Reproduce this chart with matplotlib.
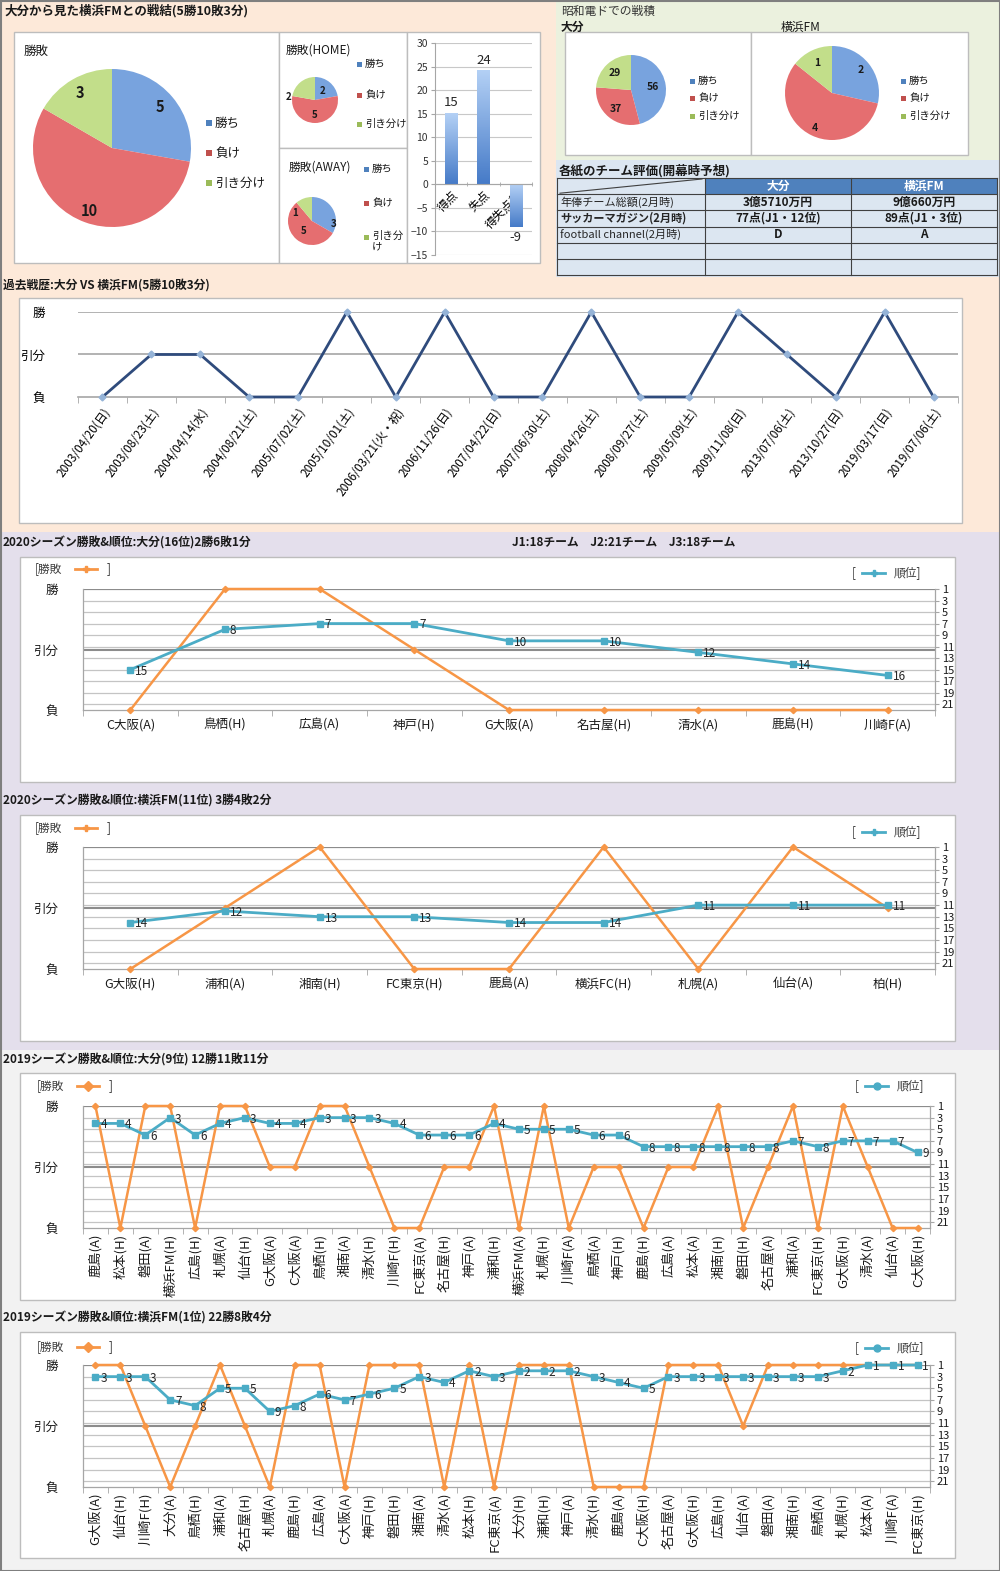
# -*- coding: utf-8 -*-
"""
大分 vs 横浜FM 戦績まとめ (Excelの表をmatplotlibで再現)
"""
import numpy as np
import matplotlib.pyplot as plt
from matplotlib.patches import Rectangle
from matplotlib.colors import LinearSegmentedColormap

plt.rcParams['font.family'] = ['Noto Sans CJK JP', 'DejaVu Sans']

ANCHO, ALTO = 1000, 1571

# ---------------- datos ----------------
kekka_nombres = ['勝ち', '負け', '引き分け']
kekka_total = [5, 10, 3]
kekka_home = [2, 5, 2]
kekka_away = [3, 5, 1]

goles_nombres = ['得点', '失点', '得失点差']
goles_valores = [15, 24, -9]

showa_oita = [56, 37, 29]
showa_yokohama = [2, 4, 1]

tabla_filas = ['年俸チーム総額(2月時)', 'サッカーマガジン(2月時)', 'football channel(2月時)']
tabla_oita = ['3億5710万円', '77点(J1・12位)', 'D']
tabla_yokohama = ['9億660万円', '89点(J1・3位)', 'A']

kako_fechas = ['2003/04/20(日)', '2003/08/23(土)', '2004/04/14(水)', '2004/08/21(土)',
               '2005/07/02(土)', '2005/10/01(土)', '2006/03/21(火・祝)', '2006/11/26(日)',
               '2007/04/22(日)', '2007/06/30(土)', '2008/04/26(土)', '2008/09/27(土)',
               '2009/05/09(土)', '2009/11/08(日)', '2013/07/06(土)', '2013/10/27(日)',
               '2019/03/17(日)', '2019/07/06(土)']
kako_kekka = [0, 1, 1, 0, 0, 2, 0, 2, 0, 0, 2, 0, 0, 2, 1, 0, 2, 0]  # 0=負 1=引分 2=勝

oita2020_equipos = ['C大阪(A)', '鳥栖(H)', '広島(A)', '神戸(H)', 'G大阪(A)', '名古屋(H)',
                    '清水(A)', '鹿島(H)', '川崎F(A)']
oita2020_kekka = [0, 2, 2, 1, 0, 0, 0, 0, 0]
oita2020_juni = [15, 8, 7, 7, 10, 10, 12, 14, 16]

yoko2020_equipos = ['G大阪(H)', '浦和(A)', '湘南(H)', 'FC東京(H)', '鹿島(A)', '横浜FC(H)',
                    '札幌(A)', '仙台(A)', '柏(H)']
yoko2020_kekka = [0, 1, 2, 0, 0, 2, 0, 2, 1]
yoko2020_juni = [14, 12, 13, 13, 14, 14, 11, 11, 11]

oita2019_equipos = ['鹿島(A)', '松本(H)', '磐田(A)', '横浜FM(H)', '広島(H)', '札幌(A)', '仙台(H)',
                    'G大阪(A)', 'C大阪(A)', '鳥栖(H)', '湘南(A)', '清水(H)', '川崎F(H)', 'FC東京(A)',
                    '名古屋(H)', '神戸(A)', '浦和(H)', '横浜FM(A)', '札幌(H)', '川崎F(A)', '鳥栖(A)',
                    '神戸(H)', '鹿島(H)', '広島(A)', '松本(A)', '湘南(H)', '磐田(H)', '名古屋(A)',
                    '浦和(A)', 'FC東京(H)', 'G大阪(H)', '清水(A)', '仙台(A)', 'C大阪(H)']
oita2019_kekka = [2, 0, 2, 2, 0, 2, 2, 1, 1, 2, 2, 1, 0, 0, 1, 1, 2,
                  0, 2, 0, 1, 1, 0, 1, 1, 2, 0, 1, 2, 0, 2, 1, 0, 0]
oita2019_juni = [4, 4, 6, 3, 6, 4, 3, 4, 4, 3, 3, 3, 4, 6, 6, 6, 4,
                 5, 5, 5, 6, 6, 8, 8, 8, 8, 8, 8, 7, 8, 7, 7, 7, 9]

yoko2019_equipos = ['G大阪(A)', '仙台(H)', '川崎F(H)', '大分(A)', '鳥栖(H)', '浦和(A)', '名古屋(H)',
                    '札幌(A)', '鹿島(H)', '広島(A)', 'C大阪(A)', '神戸(H)', '磐田(H)', '湘南(A)',
                    '清水(A)', '松本(H)', 'FC東京(A)', '大分(H)', '浦和(H)', '神戸(A)', '清水(H)',
                    '鹿島(A)', 'C大阪(H)', '名古屋(A)', 'G大阪(H)', '広島(H)', '仙台(A)', '磐田(A)',
                    '湘南(H)', '鳥栖(A)', '札幌(H)', '松本(A)', '川崎F(A)', 'FC東京(H)']
yoko2019_kekka = [2, 2, 1, 0, 1, 2, 1, 0, 2, 2, 0, 2, 2, 2, 0, 2, 0,
                  2, 2, 2, 0, 0, 0, 2, 2, 2, 1, 2, 2, 2, 2, 2, 2, 2]
yoko2019_juni = [3, 3, 3, 7, 8, 5, 5, 9, 8, 6, 7, 6, 5, 3, 4, 2, 3,
                 2, 2, 2, 3, 4, 5, 3, 3, 3, 3, 3, 3, 3, 2, 1, 1, 1]

# colores
AZUL, ROJO, VERDE = '#4F81BD', '#C0504D', '#9BBB59'
PIE_COLORES = ['#78A3DE', '#E56E70', '#C2DE8A']
NARANJA = '#F79646'
TURQUESA = '#4BACC6'
BORDE = '#BDBDBD'


fig = plt.figure(figsize=(ANCHO / 100, ALTO / 100), dpi=100)

# eje de fondo en pixeles (y hacia abajo)
bg = fig.add_axes([0, 0, 1, 1])
bg.set_xlim(0, ANCHO)
bg.set_ylim(ALTO, 0)
bg.axis('off')


def ejes_px(x, y, w, h):
    return fig.add_axes([x / ANCHO, 1 - (y + h) / ALTO, w / ANCHO, h / ALTO])


def cuadro(x0, y0, x1, y1, color='white'):
    bg.add_patch(Rectangle((x0, y0), x1 - x0, y1 - y0, fc=color, ec=BORDE, lw=1))


def texto(x, y, s, fs=8.5, **kw):
    kw.setdefault('va', 'center')
    bg.text(x, y, s, fontsize=fs, color=kw.pop('color', '#1a1a1a'), **kw)


def leyenda_pie(x, etiquetas, ys, fs=7.5, lado=5):
    for et, yy, c in zip(etiquetas, ys, [AZUL, ROJO, VERDE]):
        bg.add_patch(Rectangle((x, yy - lado / 2), lado, lado, fc=c, ec='none'))
        if '\n' in et:
            texto(x + lado + 3, yy - 6, et, fs=fs, va='top', linespacing=1.0)
        else:
            texto(x + lado + 3, yy, et, fs=fs)


def pie_px(cx, cy, r, valores, dist, fs, angulos=None):
    ax = ejes_px(cx - r, cy - r, 2 * r, 2 * r)
    cunas, _ = ax.pie(valores, colors=PIE_COLORES, startangle=90, counterclock=False, radius=1)
    ax.set_xlim(-1, 1)
    ax.set_ylim(-1, 1)
    ax.axis('off')
    if angulos is None:
        angulos = [None] * len(valores)
    for c, v, d, a in zip(cunas, valores, dist, angulos):
        ang = np.deg2rad((c.theta1 + c.theta2) / 2 if a is None else a)
        ax.text(d * np.cos(ang), d * np.sin(ang), str(v), ha='center', va='center',
                fontsize=fs, fontweight='bold', color='#1a1a1a')
    return ax


def leyenda_linea(x, y, color, marcador, izq):
    if izq:
        texto(x, y, '[勝敗', fs=8.5, color='#404040')
        bg.plot([x + 40, x + 62], [y, y], color=color, lw=2)
        bg.plot([x + 51], [y], color=color, marker=marcador, ms=5)
        texto(x + 72, y, ']', fs=8.5, color='#404040')
    else:
        texto(x, y, '[', fs=8.5, color='#404040')
        bg.plot([x + 10, x + 33], [y, y], color=color, lw=2)
        bg.plot([x + 21.5], [y], color=color, marker=marcador, ms=5)
        texto(x + 42, y, '順位]', fs=8.5, color='#404040')


def grafico_juni(x0, y0, x1, y1, equipos, kekka, juni, rot, fs_x):
    ax = ejes_px(x0, y0, x1 - x0, y1 - y0)
    ax2 = ax.twinx()
    n = len(equipos)
    pos = np.arange(n)
    ax.set_xlim(-0.5, n - 0.5)
    ax.set_ylim(0, 2)
    ax2.set_ylim(22, 1)
    ax.patch.set_visible(False)

    # lineas de la escala de 順位 (dibujadas debajo del 勝敗)
    ax.hlines(np.arange(1, 22, 2), -0.5, n - 0.5, colors='#C4C4C4', lw=0.9,
              transform=ax2.transData, zorder=1)
    ax.hlines([1, 2], -0.5, n - 0.5, colors='#8C8C8C', lw=1.5, zorder=1)

    ax.plot(pos, kekka, color=NARANJA, lw=1.8, marker='D', ms=3.2, zorder=3, clip_on=False)
    ax2.plot(pos, juni, color=TURQUESA, lw=2.0, marker='s', ms=4.2, zorder=3, clip_on=False)
    for p, r in zip(pos, juni):
        ax2.annotate(str(r), (p, r), xytext=(3.5, -1), textcoords='offset points',
                     fontsize=8.5, ha='left', va='center', color='#262626')

    for lado in ['top', 'right']:
        ax.spines[lado].set_visible(False)
    for lado in ['top', 'left', 'bottom']:
        ax2.spines[lado].set_visible(False)
    for sp in [ax.spines['left'], ax.spines['bottom'], ax2.spines['right']]:
        sp.set_color('#A6A6A6')
        sp.set_linewidth(0.9)

    ax.set_yticks([0, 1, 2], ['負', '引分', '勝'])
    ax.tick_params(axis='y', length=0, pad=18, labelsize=9, labelcolor='#1a1a1a')
    ax.set_xticks(pos, equipos, rotation=rot, fontsize=fs_x)
    ax.tick_params(axis='x', length=0, pad=6 if rot == 0 else 4, labelcolor='#1a1a1a')
    ax.set_xticks(np.arange(-0.5, n), minor=True)
    ax.tick_params(axis='x', which='minor', length=4, color='#A6A6A6')
    ax2.set_yticks(range(1, 22, 2))
    ax2.tick_params(axis='y', length=3, pad=2, labelsize=8, color='#A6A6A6', labelcolor='#1a1a1a')
    return ax, ax2


# ---------------- fondos ----------------
bg.add_patch(Rectangle((0, 0), ANCHO, 532, fc='#FDE9D9', ec='none'))
bg.add_patch(Rectangle((556, 0), 444, 160, fc='#EBF1DE', ec='none'))
bg.add_patch(Rectangle((556, 160), 444, 117, fc='#DCE6F1', ec='none'))
bg.add_patch(Rectangle((0, 532), ANCHO, 518, fc='#E4DFEC', ec='none'))
bg.add_patch(Rectangle((0, 1050), ANCHO, 521, fc='#F2F2F2', ec='none'))

# ---------------- bloque superior izquierdo ----------------
texto(4, 11, '大分から見た横浜FMとの戦結(5勝10敗3分)', fs=9, fontweight='bold')
cuadro(14, 32, 279, 263)
cuadro(279, 32, 407, 148)
cuadro(279, 148, 407, 263)
cuadro(407, 32, 540, 263)

texto(24, 51, '勝敗', fs=9)
pie_px(112, 148, 79, kekka_total, [0.8, 0.85, 0.8], fs=10.5)
leyenda_pie(206, kekka_nombres, [123, 153, 183], fs=9, lado=6)

texto(286, 50, '勝敗(HOME)', fs=8.5)
pie_px(315, 100, 23, kekka_home, [0.5, 0.65, 1.15], fs=7, angulos=[None, None, 173])
leyenda_pie(357, kekka_nombres, [64, 95, 124], fs=7.5)

texto(289, 167, '勝敗(AWAY)', fs=8.5)
pie_px(312, 221, 24, kekka_away, [0.92, 0.56, 0.78], fs=7, angulos=[-8, None, 155])
leyenda_pie(364, ['勝ち', '負け', '引き分\nけ'], [169, 203, 237], fs=7.5)

# barras 得点/失点
axb = ejes_px(435, 43, 97, 212)
xb = np.arange(len(goles_valores))
barras = axb.bar(xb, goles_valores, width=0.38, color='none', zorder=2)
cmap_barra = LinearSegmentedColormap.from_list('barra', ['#467BC8', '#B3D0F5'])
gradiente = np.linspace(0, 1, 64).reshape(-1, 1)
for b in barras:
    y_bajo = min(b.get_y(), b.get_y() + b.get_height())
    y_alto = max(b.get_y(), b.get_y() + b.get_height())
    axb.imshow(gradiente, extent=[b.get_x(), b.get_x() + b.get_width(), y_bajo, y_alto],
               origin='lower', aspect='auto', cmap=cmap_barra, zorder=2)
for i, v in zip(xb, goles_valores):
    axb.text(i, v + 1.0 if v > 0 else v - 1.0, str(v), ha='center',
             va='bottom' if v > 0 else 'top', fontsize=9.5, color='#262626')
axb.set_xlim(-0.5, 2.5)
axb.set_ylim(-15, 30)
axb.set_yticks(range(-15, 31, 5))
axb.grid(axis='y', color='#C8C8C8', lw=0.8)
axb.set_axisbelow(True)
axb.patch.set_visible(False)
for lado in ['top', 'right']:
    axb.spines[lado].set_visible(False)
axb.spines['bottom'].set_position(('data', 0))
axb.spines['bottom'].set_color('#A6A6A6')
axb.spines['left'].set_color('#A6A6A6')
axb.tick_params(axis='y', length=3, color='#A6A6A6', labelsize=7.5, pad=2, labelcolor='#333333')
axb.set_xticks(xb, goles_nombres, rotation=45, ha='right', rotation_mode='anchor', fontsize=8.5)
axb.tick_params(axis='x', length=0, pad=3)
axb.set_xticks([-0.5, 0.5, 1.5, 2.5], minor=True)
axb.tick_params(axis='x', which='minor', length=3, color='#A6A6A6', direction='inout')

# ---------------- bloque superior derecho ----------------
texto(561, 11, '昭和電ドでの戦積', fs=8.5, color='#333333')
texto(561, 27, '大分', fs=8.5, fontweight='bold')
texto(781, 27, '横浜FM', fs=8.5)
cuadro(565, 32, 751, 155)
cuadro(751, 32, 968, 155)
pie_px(631, 90, 35, showa_oita, [0.64, 0.69, 0.67], fs=7.5)
leyenda_pie(690, kekka_nombres, [81, 98, 116], fs=7.5)
pie_px(832, 93, 47, showa_yokohama, [0.77, 0.83, 0.72], fs=7.5)
leyenda_pie(901, kekka_nombres, [81, 98, 116], fs=7.5)

# tabla
texto(559, 171, '各紙のチーム評価(開幕時予想)', fs=9, fontweight='bold')
col_x = [557, 705, 851, 997]
fila_y = [178 + 16.2 * i for i in range(7)]
bg.add_patch(Rectangle((col_x[1], fila_y[0]), col_x[3] - col_x[1], fila_y[1] - fila_y[0],
                       fc='#4F81BD', ec='none'))
texto((col_x[1] + col_x[2]) / 2, (fila_y[0] + fila_y[1]) / 2, '大分', fs=8.5,
      color='white', fontweight='bold', ha='center')
texto((col_x[2] + col_x[3]) / 2, (fila_y[0] + fila_y[1]) / 2, '横浜FM', fs=8.5,
      color='white', fontweight='bold', ha='center')
bg.plot([col_x[0] + 3, col_x[1] - 3], [fila_y[1] - 1, fila_y[0] + 1], color='#404040', lw=0.8)
for yy in fila_y:
    bg.plot([col_x[0], col_x[3]], [yy, yy], color='#404040', lw=0.8)
for xx in col_x:
    bg.plot([xx, xx], [fila_y[0], fila_y[-1]], color='#404040', lw=0.8)
for k, (f, o, y_) in enumerate(zip(tabla_filas, tabla_oita, tabla_yokohama)):
    yc = (fila_y[k + 1] + fila_y[k + 2]) / 2
    texto(col_x[0] + 3, yc, f, fs=8, color='#262626', fontweight='bold' if k == 1 else 'normal')
    texto((col_x[1] + col_x[2]) / 2, yc, o, fs=8.5, fontweight='bold', ha='center')
    texto((col_x[2] + col_x[3]) / 2, yc, y_, fs=8.5, fontweight='bold', ha='center')

# ---------------- 過去戦歴 ----------------
texto(3, 285, '過去戦歴:大分 VS 横浜FM(5勝10敗3分)', fs=8.5, fontweight='bold')
cuadro(19, 298, 962, 523)
axk = ejes_px(78, 312, 880, 85)
xk = np.arange(len(kako_fechas))
axk.set_xlim(-0.5, len(kako_fechas) - 0.5)
axk.set_ylim(0, 2)
axk.hlines([1, 2], -0.5, len(kako_fechas) - 0.5, colors='#A6A6A6', lw=1.2, zorder=1)
axk.plot(xk, kako_kekka, color='#2F4B7C', lw=2, marker='D', ms=3.5,
         mfc='#95B3D7', mec='#95B3D7', zorder=3, clip_on=False)
axk.patch.set_visible(False)
for lado in ['top', 'right', 'left']:
    axk.spines[lado].set_visible(False)
axk.spines['bottom'].set_color('#A6A6A6')
axk.spines['bottom'].set_linewidth(1.2)
axk.set_yticks([0, 1, 2], ['負', '引分', '勝'])
axk.tick_params(axis='y', length=0, pad=24, labelsize=9)
axk.set_xticks(xk, kako_fechas, rotation=54, ha='right', rotation_mode='anchor', fontsize=8.5)
axk.tick_params(axis='x', length=0, pad=6)
axk.set_xticks(np.arange(-0.5, len(kako_fechas)), minor=True)
axk.tick_params(axis='x', which='minor', length=4, color='#A6A6A6')

# ---------------- 2020 ----------------
texto(3, 543, '2020シーズン勝敗&順位:大分(16位)2勝6敗1分', fs=8.5, fontweight='bold')
texto(512, 543, 'J1:18チーム　J2:21チーム　J3:18チーム', fs=8.5, fontweight='bold')
cuadro(20, 557, 955, 782)
leyenda_linea(35, 569, NARANJA, 'P', True)
leyenda_linea(852, 573, TURQUESA, 'P', False)
grafico_juni(83, 589, 935, 710, oita2020_equipos, oita2020_kekka, oita2020_juni, 0, 9)

texto(3, 801, '2020シーズン勝敗&順位:横浜FM(11位) 3勝4敗2分', fs=8.5, fontweight='bold')
cuadro(20, 815, 955, 1041)
leyenda_linea(35, 828, NARANJA, 'P', True)
leyenda_linea(852, 832, TURQUESA, 'P', False)
grafico_juni(83, 847, 935, 969, yoko2020_equipos, yoko2020_kekka, yoko2020_juni, 0, 9)

# ---------------- 2019 ----------------
texto(3, 1060, '2019シーズン勝敗&順位:大分(9位) 12勝11敗11分', fs=8.5, fontweight='bold')
cuadro(20, 1073, 955, 1300)
leyenda_linea(37, 1086, NARANJA, 'D', True)
leyenda_linea(855, 1086, TURQUESA, 'o', False)
grafico_juni(83, 1106, 930, 1228, oita2019_equipos, oita2019_kekka, oita2019_juni, 90, 9.5)

texto(3, 1318, '2019シーズン勝敗&順位:横浜FM(1位) 22勝8敗4分', fs=8.5, fontweight='bold')
cuadro(20, 1332, 955, 1558)
leyenda_linea(37, 1347, NARANJA, 'D', True)
leyenda_linea(855, 1348, TURQUESA, 'o', False)
grafico_juni(83, 1365, 930, 1487, yoko2019_equipos, yoko2019_kekka, yoko2019_juni, 90, 9.5)

# marco exterior
bg.add_patch(Rectangle((0.5, 0.5), ANCHO - 1, ALTO - 1, fill=False, ec='#7F7F7F', lw=1.5))

fig.savefig('out.png', dpi=100)
